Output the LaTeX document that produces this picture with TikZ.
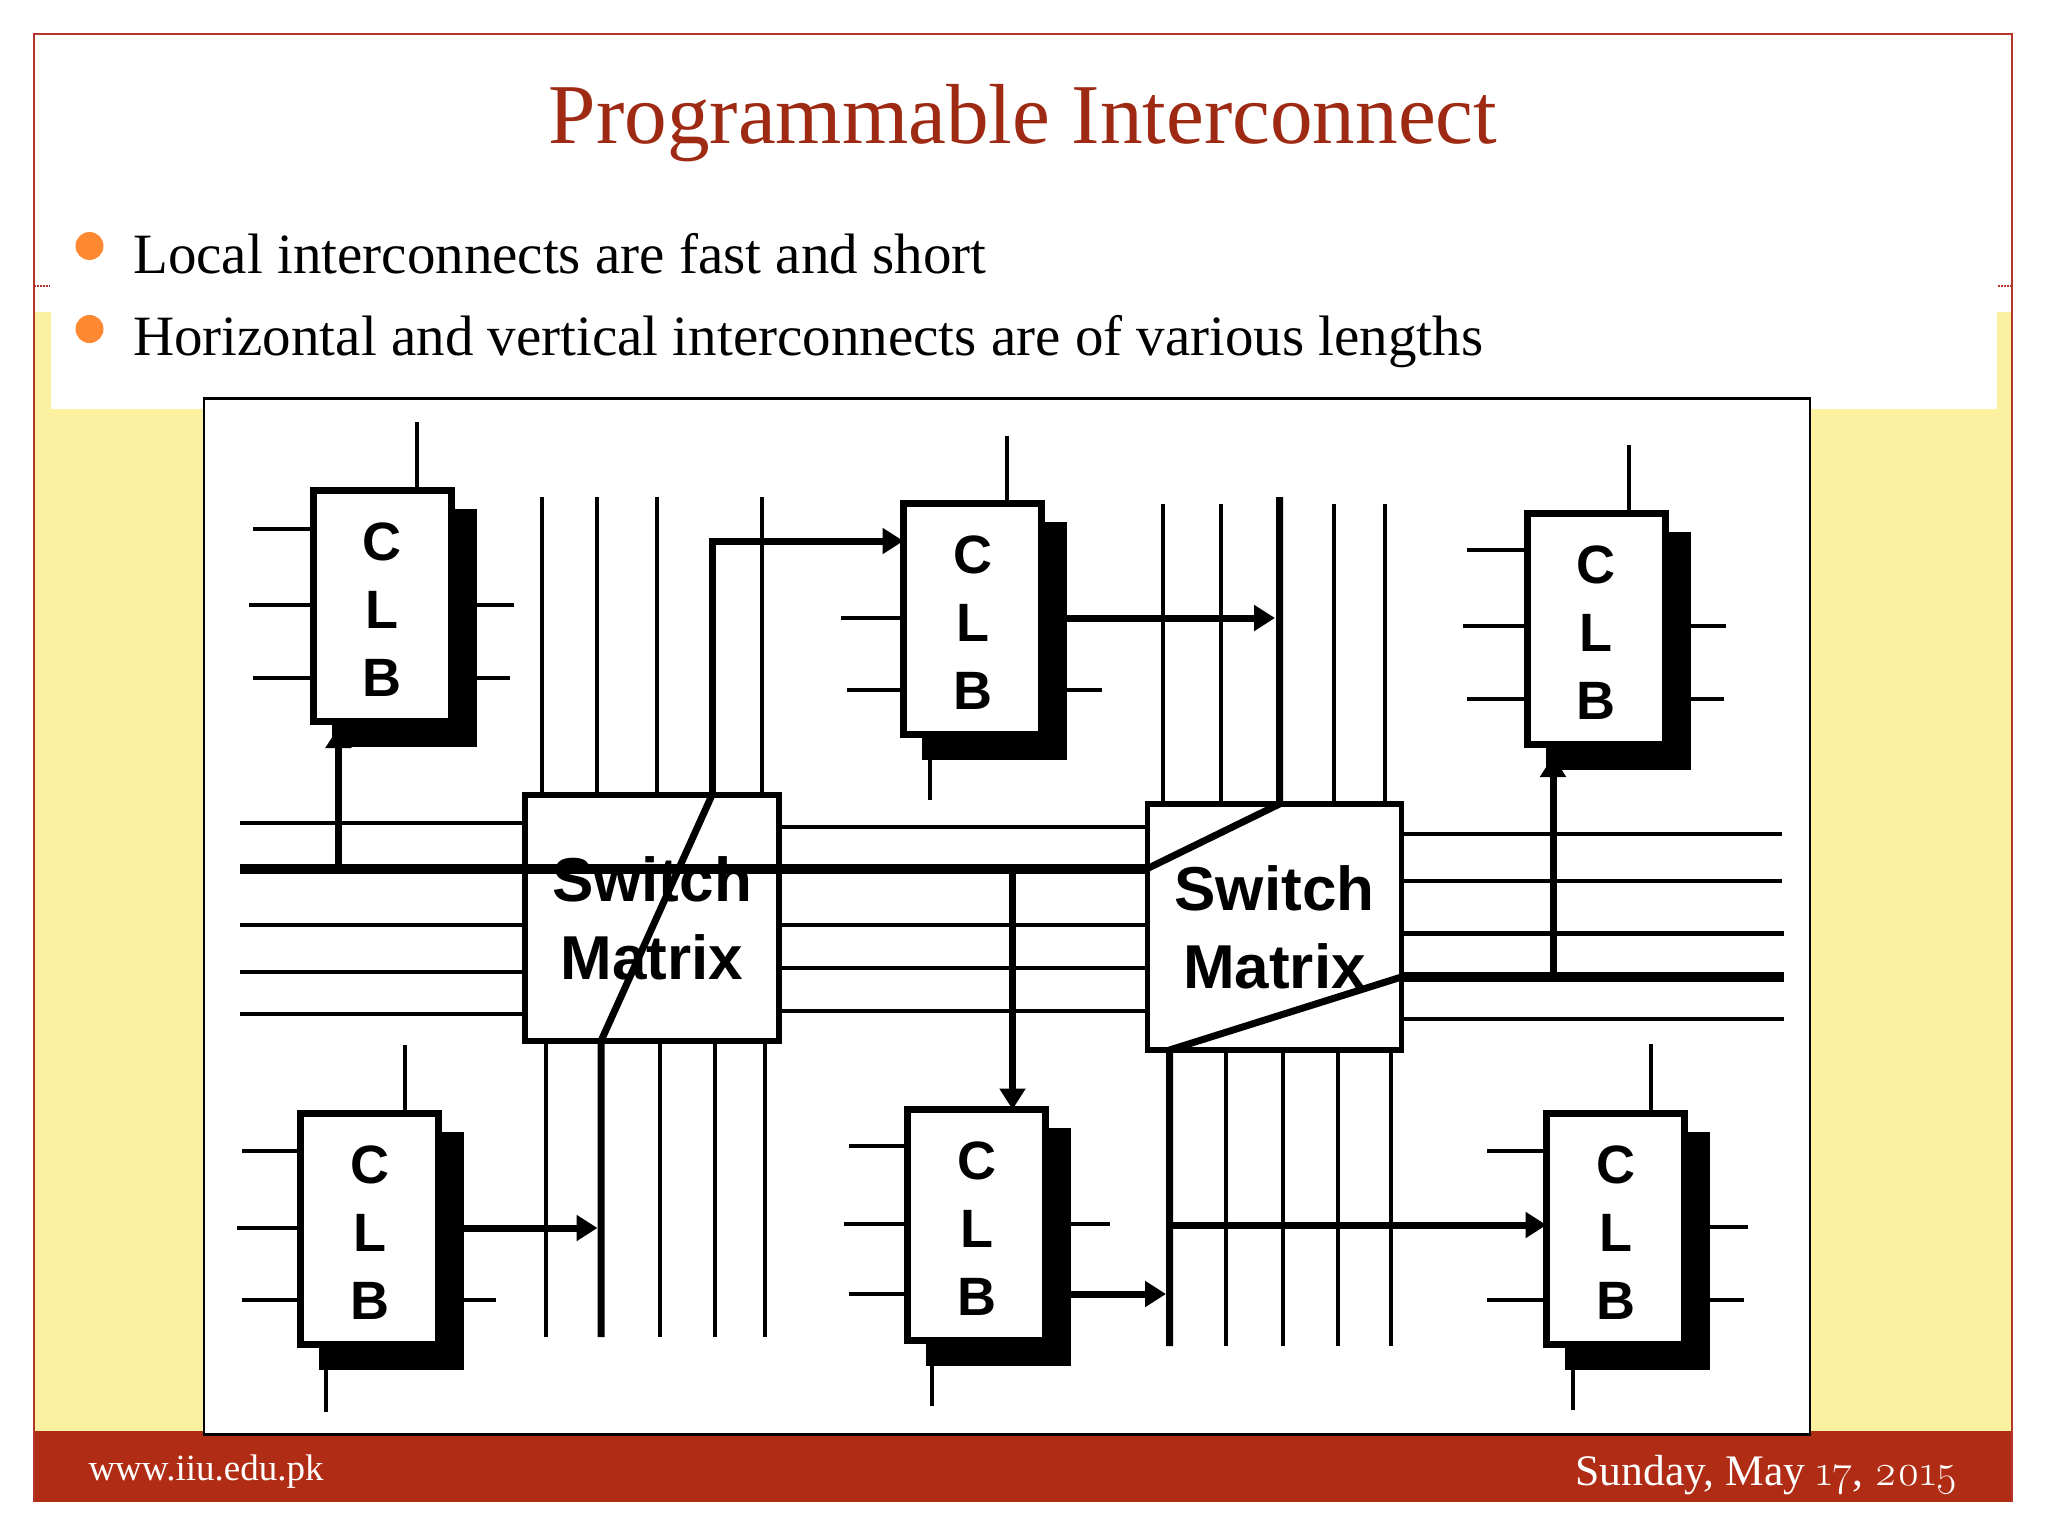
\documentclass[tikz,border=0pt]{standalone}
\usepackage{xcolor}
\usepackage{fontspec}
\setmainfont{Liberation Serif}
\setsansfont{Liberation Sans}
\newfontfamily\datedigits[Numbers=OldStyle]{Latin Modern Roman}
\definecolor{slideRed}{HTML}{B02C14}
\definecolor{slideTitle}{HTML}{9E2A14}
\definecolor{slideFrame}{HTML}{B5352B}
\definecolor{slideYellow}{HTML}{FCF1A0}
\definecolor{slideOrange}{HTML}{FF8833}
\definecolor{slideInk}{HTML}{000000}
\usetikzlibrary{positioning, arrows.meta, shadows}
\newcommand{\clblabel}{\rule{0pt}{45pt}C\\L\\B}

\begin{document}
\begin{tikzpicture}[
  x=1pt, y=-1pt,
  clb/.style = {rectangle, draw=slideInk, line width=7pt, fill=white, outer sep=0pt,
                inner sep=0pt, minimum width=138pt, minimum height=231pt,
                align=center, font=\sffamily\bfseries\fontsize{54}{68}\selectfont,
                drop shadow={shadow xshift=22pt, shadow yshift=-22pt, opacity=1,
                             fill=slideInk, draw=slideInk, line width=7pt}},
  switchbox/.style = {rectangle, draw=slideInk, line width=5.5pt, fill=white, outer sep=0pt,
                inner sep=0pt, minimum width=254pt, minimum height=246pt,
                align=center, font=\sffamily\bfseries\fontsize{62}{78}\selectfont},
  wire/.style = {line width=4pt, color=slideInk},
  thickwire/.style = {line width=7pt, color=slideInk},
  buswire/.style = {line width=10pt, color=slideInk},
  arrow/.style = {-{Triangle[length=21pt, width=25pt]}, line width=7pt, color=slideInk},
  bullet/.style = {circle, fill=slideOrange, minimum size=28pt, inner sep=0pt},
  bodytext/.style = {anchor=base west, inner sep=0pt, font=\fontsize{57}{70}\selectfont},
  foottext/.style = {anchor=base, inner sep=0pt, text=white},
]
\useasboundingbox (0,0) rectangle (2048,1536);

% Slide background
\fill[slideYellow] (34,312) rectangle (2012,1431);
\fill[white] (51,286) rectangle (1997,409);
\fill[white] (34,34) rectangle (2012,286);
\fill[slideRed] (33,1431) rectangle (2013,1502);
\draw[slideFrame, line width=2pt] (34,1502) -- (34,34) -- (2012,34) -- (2012,1502);
\draw[slideFrame, line width=2pt, densely dotted] (34,286) -- (50,286);
\draw[slideFrame, line width=2pt, densely dotted] (1998,286) -- (2012,286);

% Title and bullets
\node[anchor=base, inner sep=0pt, text=slideTitle, font=\fontsize{85.2}{100}\selectfont]
      (title) at (1023,143) {Programmable Interconnect};
\node[bullet] (dotA) at (89.5,246) {};
\node[bullet] (dotB) at (89.5,329) {};
\node[bodytext] (lineA) at (133,273) {Local interconnects are fast and short};
\node[bodytext] (lineB) at (133,355) {Horizontal and vertical interconnects are of various lengths};

% Footer
\node[foottext, font=\fontsize{37}{40}\selectfont] (site) at (206,1480) {www.iiu.edu.pk};
\node[foottext, font=\fontsize{43.6}{44}\selectfont] (date) at (1767,1485)
      {Sunday, May {\datedigits 17}, {\datedigits 2015}};

% Picture panel
\node[rectangle, draw=slideInk, line width=2.5pt, fill=white, inner sep=0pt,
      minimum width=1606pt, minimum height=1036pt] (panel) at (1007,916.5) {};

% Switch matrices
\node[switchbox] (swA) at (652,918) {Switch\\Matrix};
\node[switchbox, right=368.5pt of swA, yshift=-9pt] (swB) {Switch\\Matrix};

% CLBs
\node[clb, above left=73.5pt and 74pt of swA]  (clbA) {\clblabel};
\node[clb, above right=60.5pt and 124.5pt of swA] (clbB) {\clblabel};
\node[clb, above right=59.5pt and 125.5pt of swB] (clbC) {\clblabel};
\node[clb, below left=72.5pt and 86.5pt of swA]  (clbD) {\clblabel};
\node[clb, below right=68.5pt and 128.5pt of swA]  (clbE) {\clblabel};
\node[clb, below right=63pt and 145pt of swB]    (clbF) {\clblabel};

% CLB pins
\draw[wire] ([xshift=35pt]clbA.north) -- ++(0,-69);
\draw[wire] ([yshift=77pt]clbA.west) -- ++(-60,0);
\draw[wire] ([yshift=1pt]clbA.west) -- ++(-64,0);
\draw[wire] ([yshift=-72pt]clbA.west) -- ++(-60,0);
\draw[wire] ([yshift=1pt]clbA.east) -- ++(63,0);
\draw[wire] ([yshift=-72pt]clbA.east) -- ++(59,0);

\draw[wire] ([xshift=34.5pt]clbB.north) -- ++(0,-68);
\draw[wire] ([yshift=1pt]clbB.west) -- ++(-63,0);
\draw[wire] ([yshift=-71pt]clbB.west) -- ++(-57,0);
\draw[wire] ([yshift=-71pt]clbB.east) -- ++(60,0);
\draw[wire] ([xshift=-43pt]clbB.south) -- ++(0,65);

\draw[wire] ([xshift=33pt]clbC.north) -- ++(0,-69);
\draw[wire] ([yshift=79pt]clbC.west) -- ++(-60,0);
\draw[wire] ([yshift=3pt]clbC.west) -- ++(-64,0);
\draw[wire] ([yshift=-70pt]clbC.west) -- ++(-60,0);
\draw[wire] ([yshift=3pt]clbC.east) -- ++(61,0);
\draw[wire] ([yshift=-70pt]clbC.east) -- ++(59,0);

\draw[wire] ([xshift=35pt]clbD.north) -- ++(0,-69);
\draw[wire] ([yshift=78pt]clbD.west) -- ++(-59,0);
\draw[wire] ([yshift=1pt]clbD.west) -- ++(-64,0);
\draw[wire] ([yshift=-71pt]clbD.west) -- ++(-59,0);
\draw[wire] ([yshift=-71pt]clbD.east) -- ++(57,0);
\draw[wire] ([xshift=-43.5pt]clbD.south) -- ++(0,67);

\draw[wire] ([yshift=79.5pt]clbE.west) -- ++(-59,0);
\draw[wire] ([yshift=1pt]clbE.west) -- ++(-64,0);
\draw[wire] ([yshift=-69pt]clbE.west) -- ++(-59,0);
\draw[wire] ([yshift=1pt]clbE.east) -- ++(64,0);
\draw[wire] ([xshift=-44.5pt]clbE.south) -- ++(0,65);

\draw[wire] ([xshift=35pt]clbF.north) -- ++(0,-69);
\draw[wire] ([yshift=78pt]clbF.west) -- ++(-60,0);
\draw[wire] ([yshift=-71pt]clbF.west) -- ++(-60,0);
\draw[wire] ([yshift=1.5pt]clbF.east) -- ++(63,0);
\draw[wire] ([yshift=-71pt]clbF.east) -- ++(59.5,0);
\draw[wire] ([xshift=-43pt]clbF.south) -- ++(0,66);

% Vertical tracks
\draw[wire] ([xshift=-110pt]swA.north) -- ++(0,-298);
\draw[wire] ([xshift=-55pt]swA.north)  -- ++(0,-298);
\draw[wire] ([xshift=5pt]swA.north)    -- ++(0,-298);
\draw[wire] ([xshift=109.5pt]swA.north) -- ++(0,-298);
\draw[wire] ([xshift=-106pt]swA.south) -- ++(0,296);
\draw[wire] ([xshift=8pt]swA.south)    -- ++(0,296);
\draw[wire] ([xshift=62.5pt]swA.south) -- ++(0,296);
\draw[wire] ([xshift=113pt]swA.south)  -- ++(0,296);
\draw[wire] ([xshift=-111.5pt]swB.north) -- ++(0,-300);
\draw[wire] ([xshift=-54pt]swB.north)  -- ++(0,-300);
\draw[wire] ([xshift=59.5pt]swB.north) -- ++(0,-300);
\draw[wire] ([xshift=110.5pt]swB.north) -- ++(0,-300);
\draw[wire] ([xshift=-49pt]swB.south)  -- ++(0,296);
\draw[wire] ([xshift=8.5pt]swB.south)  -- ++(0,296);
\draw[wire] ([xshift=63.5pt]swB.south) -- ++(0,296);
\draw[wire] ([xshift=116pt]swB.south)  -- ++(0,296);

% Horizontal tracks
\draw[wire] ([yshift=95pt]swA.west)  -- ++(-285,0);
\draw[wire] ([yshift=-7pt]swA.west)  -- ++(-285,0);
\draw[wire] ([yshift=-54pt]swA.west) -- ++(-285,0);
\draw[wire] ([yshift=-95.5pt]swA.west) -- ++(-285,0);
\draw[wire] ([yshift=91pt]swA.east)  -- ++(368.5,0);
\draw[wire] ([yshift=-7pt]swA.east)  -- ++(368.5,0);
\draw[wire] ([yshift=-50pt]swA.east) -- ++(368.5,0);
\draw[wire] ([yshift=-93pt]swA.east) -- ++(368.5,0);
\draw[wire] ([yshift=93pt]swB.east)  -- ++(380,0);
\draw[wire] ([yshift=46pt]swB.east)  -- ++(380,0);
\draw[thickwire, line width=5pt] ([yshift=-6pt]swB.east)  -- ++(382,0);
\draw[wire] ([yshift=-92pt]swB.east) -- ++(382,0);

% Highlighted route
\coordinate[left=285pt of swA.west, yshift=49.5pt] (busStart);
\draw[buswire] (busStart) -- (busStart -| swB.west);
\draw[buswire] ([yshift=-50pt]swB.east) -- ++(382,0);
\draw[thickwire] ([xshift=60pt]swA.north) -- ([xshift=-51pt]swA.south) -- ++(0,296);
\draw[thickwire] ([yshift=58.5pt]swB.west) -- ([xshift=5pt]swB.north) -- ++(0,-307);
\draw[thickwire] ([yshift=-50pt]swB.east) -- ([xshift=-105pt]swB.south) -- ++(0,296);

% Arrows
\draw[arrow] ([xshift=-43.5pt, yshift=-147pt]clbA.south) -- ([xshift=-43.5pt, yshift=-5.5pt]clbA.south);
\draw[arrow] ([xshift=60pt]swA.north) |- ([yshift=78pt]clbB.west);
\draw[arrow] ([yshift=1pt]clbB.east) -- ++(233.5,0);
\draw[arrow] ([xshift=-43pt, yshift=-232.5pt]clbC.south) -- ([xshift=-43pt, yshift=-11.5pt]clbC.south);
\draw[arrow] ([yshift=1pt]clbD.east) -- ++(159,0);
\draw[arrow] ([xshift=36pt, yshift=241pt]clbE.north) -- ([xshift=36pt]clbE.north);
\draw[arrow] ([yshift=-69pt]clbE.east) -- ++(120.5,0);
\draw[arrow] ([yshift=3.5pt, xshift=-377.5pt]clbF.west) -- ([yshift=3.5pt]clbF.west);
\end{tikzpicture}
\end{document}
